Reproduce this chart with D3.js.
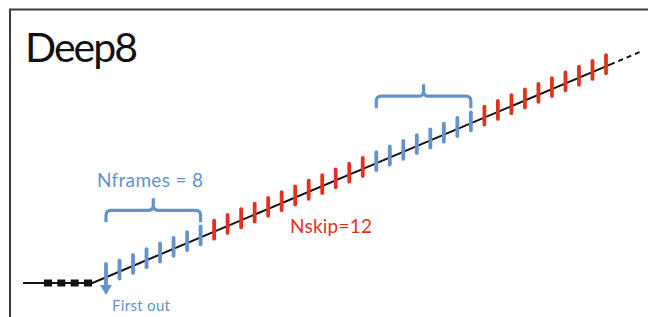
<!DOCTYPE html>
<html><head><meta charset="utf-8">
<script src="https://cdn.jsdelivr.net/npm/d3@7"></script>
<style>html,body{margin:0;padding:0;background:#fff;}svg{display:block;}</style>
</head><body>
<script>
// ---- data ----
const title = "Deep8";
const bufferFrames = [0, 1, 2, 3];                 // frames waiting in the buffer (black squares)
const segmentTypes = ["frames", "skip", "frames", "skip"];
const segmentCounts = [8, 12, 8, 10];
const bracketSegments = [0, 2];                    // segments marked with a brace
const labels = ["Nframes = 8", "Nskip=12", "First out"];

// ---- layout ----
const W = 648, H = 317;
const BLUE = "#6393cb", RED = "#e2321f";
const svg = d3.select("body").append("svg").attr("width", W).attr("height", H);

// build frame list
const frames = [];
let idx = 0;
segmentTypes.forEach((t, s) => {
  for (let k = 0; k < segmentCounts[s]; k++) frames.push({i: idx++, type: t, seg: s});
});
const nFrames = frames.length;

const x = d3.scaleLinear().domain([0, nFrames - 1]).range([106, 606]);
const y = d3.scaleLinear().domain([-1, 39.5]).range([283, 52]);
const xb = d3.scalePoint().domain(bufferFrames).range([48, 88]);

// frame
svg.append("path").attr("d", `M10,${H} L10,9.5 L${W},9.5`)
  .attr("fill", "none").attr("stroke", "#3a3a3a").attr("stroke-width", 2);

// title
svg.append("text").attr("x", 25).attr("y", 62).text(title)
  .attr("font-family", "Lato, 'Open Sans', sans-serif").attr("font-size", 41)
  .attr("fill", "#111").attr("textLength", 113);

// timeline: flat part + sloped part
const line = d3.line();
svg.append("path").attr("d", line([[23, y(-1)], [x(-1), y(-1)], [x(37.3), y(37.3)]]))
  .attr("fill", "none").attr("stroke", "#111").attr("stroke-width", 2);
svg.append("path").attr("d", line([[x(37.3), y(37.3)], [x(39.5), y(39.5)]]))
  .attr("fill", "none").attr("stroke", "#111").attr("stroke-width", 2)
  .attr("stroke-dasharray", "5,4");

// buffer squares
svg.selectAll("rect.buf").data(bufferFrames).join("rect").attr("class", "buf")
  .attr("x", d => xb(d) - 4).attr("y", y(-1) - 3.5).attr("width", 8).attr("height", 7)
  .attr("fill", "#111");

// frame ticks
svg.selectAll("line.tick").data(frames.filter(d => d.i > 0)).join("line").attr("class", "tick")
  .attr("x1", d => x(d.i)).attr("x2", d => x(d.i))
  .attr("y1", d => y(d.i) - 11).attr("y2", d => y(d.i) + 7)
  .attr("stroke", d => d.type === "frames" ? BLUE : RED)
  .attr("stroke-width", 3.8).attr("stroke-linecap", "round");

// first-out arrow
const f0 = frames[0];
svg.append("line").attr("x1", x(f0.i)).attr("x2", x(f0.i))
  .attr("y1", 264).attr("y2", 287)
  .attr("stroke", BLUE).attr("stroke-width", 3.8).attr("stroke-linecap", "round");
svg.append("path")
  .attr("d", `M${x(f0.i) - 6},285 L${x(f0.i) + 6},285 L${x(f0.i)},295 Z`)
  .attr("fill", BLUE);

// braces
function brace(x1, x2, yh) {
  const ye = yh + 12, yn = yh - 12, xm = (x1 + x2) / 2, r = 5;
  return `M${x1},${ye} L${x1},${yh + r} Q${x1},${yh} ${x1 + r},${yh} L${xm - r},${yh} Q${xm},${yh} ${xm},${yh - r} L${xm},${yn}` +
         ` M${xm},${yh - r} Q${xm},${yh} ${xm + r},${yh} L${x2 - r},${yh} Q${x2},${yh} ${x2},${yh + r} L${x2},${ye}`;
}
bracketSegments.forEach(s => {
  const fs = frames.filter(d => d.seg === s);
  const a = fs[0].i, b = fs[fs.length - 1].i;
  svg.append("path").attr("d", brace(x(a), x(b), y(a) - 67))
    .attr("fill", "none").attr("stroke", BLUE).attr("stroke-width", 3.2)
    .attr("stroke-linejoin", "round");
});

// labels
const font = "Lato, 'Open Sans', sans-serif";
svg.append("text").attr("x", 97).attr("y", 187).text(labels[0])
  .attr("font-family", font).attr("font-size", 19).attr("fill", BLUE).attr("textLength", 106);
svg.append("text").attr("x", 290).attr("y", 233).text(labels[1])
  .attr("font-family", font).attr("font-size", 19).attr("fill", RED).attr("textLength", 82);
svg.append("text").attr("x", 112).attr("y", 311).text(labels[2])
  .attr("font-family", font).attr("font-size", 15).attr("fill", BLUE).attr("textLength", 58);
</script>
</body></html>
